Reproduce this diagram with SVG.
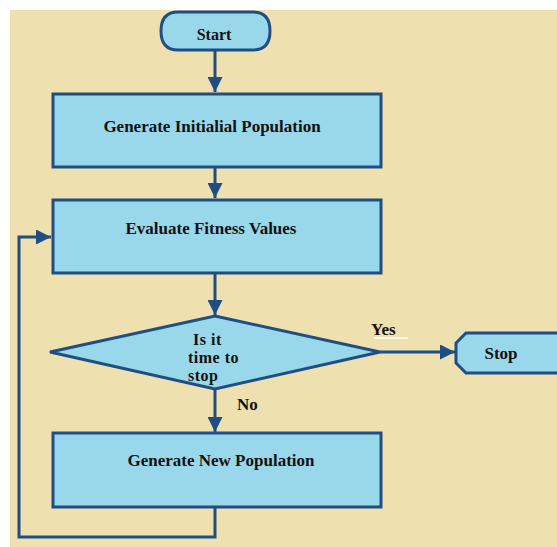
<svg xmlns="http://www.w3.org/2000/svg" width="557" height="547" viewBox="0 0 557 547">
<style>
.shape{fill:#99D8EA;stroke:#1F4E85;stroke-width:3}
.line{fill:none;stroke:#1F4E85;stroke-width:3}
.t{font-family:"Liberation Serif","Times New Roman",serif;font-weight:bold;font-size:17px;fill:#111}
.d{font-size:16px;letter-spacing:0.5px}
</style>
<defs>
<marker id="ah" viewBox="0 0 10 10" refX="10" refY="5" markerWidth="5" markerHeight="5" markerUnits="strokeWidth" orient="auto">
<path d="M0,0 L10,5 L0,10 Z" fill="#1F4E85"/>
</marker>
</defs>
<rect x="0" y="0" width="557" height="547" fill="#ffffff"/>
<rect x="10" y="10" width="547" height="537" fill="#EEE0AF"/>
<g id="connectors">
<line class="line" x1="215" y1="51" x2="215" y2="92" marker-end="url(#ah)"/>
<line class="line" x1="215" y1="167" x2="215" y2="198" marker-end="url(#ah)"/>
<line class="line" x1="215" y1="273" x2="215" y2="315" marker-end="url(#ah)"/>
<line class="line" x1="380" y1="352" x2="455" y2="352" marker-end="url(#ah)"/>
<line class="line" x1="215" y1="389" x2="215" y2="432" marker-end="url(#ah)"/>
<polyline class="line" points="215,507 215,537 19,537 19,237 51,237" marker-end="url(#ah)"/>
</g>
<g id="start">
<path class="shape" d="M178,12 H253 Q270,12 270,31 Q270,50 253,50 H178 Q161,50 161,31 Q161,12 178,12 Z"/>
<text class="t" x="214" y="40" text-anchor="middle" style="font-size:16px">Start</text>
</g>
<g id="init">
<rect class="shape" x="53" y="94" width="328" height="73"/>
<text class="t" x="212" y="132" text-anchor="middle">Generate Initialial Population</text>
</g>
<g id="evaluate">
<rect class="shape" x="53" y="200" width="328" height="73"/>
<text class="t" x="211" y="234" text-anchor="middle">Evaluate Fitness Values</text>
</g>
<g id="decision">
<polygon class="shape" points="215,316 380,352 215,389 50,352"/>
<text class="t d" x="193" y="345">Is it</text>
<text class="t d" x="188" y="363">time to</text>
<text class="t d" x="188" y="381">stop</text>
<text class="t" x="371" y="335">Yes</text>
<line x1="374" y1="338" x2="408" y2="338" stroke="#ffffff" stroke-width="1.5"/>
<text class="t" x="237" y="410">No</text>
</g>
<g id="stop">
<path class="shape" d="M466,333 H560 V373 H466 L456,363 V343 Z"/>
<text class="t" x="501" y="359" text-anchor="middle">Stop</text>
</g>
<g id="newpop">
<rect class="shape" x="53" y="433" width="328" height="74"/>
<text class="t" x="221" y="466" text-anchor="middle">Generate New Population</text>
</g>
</svg>
